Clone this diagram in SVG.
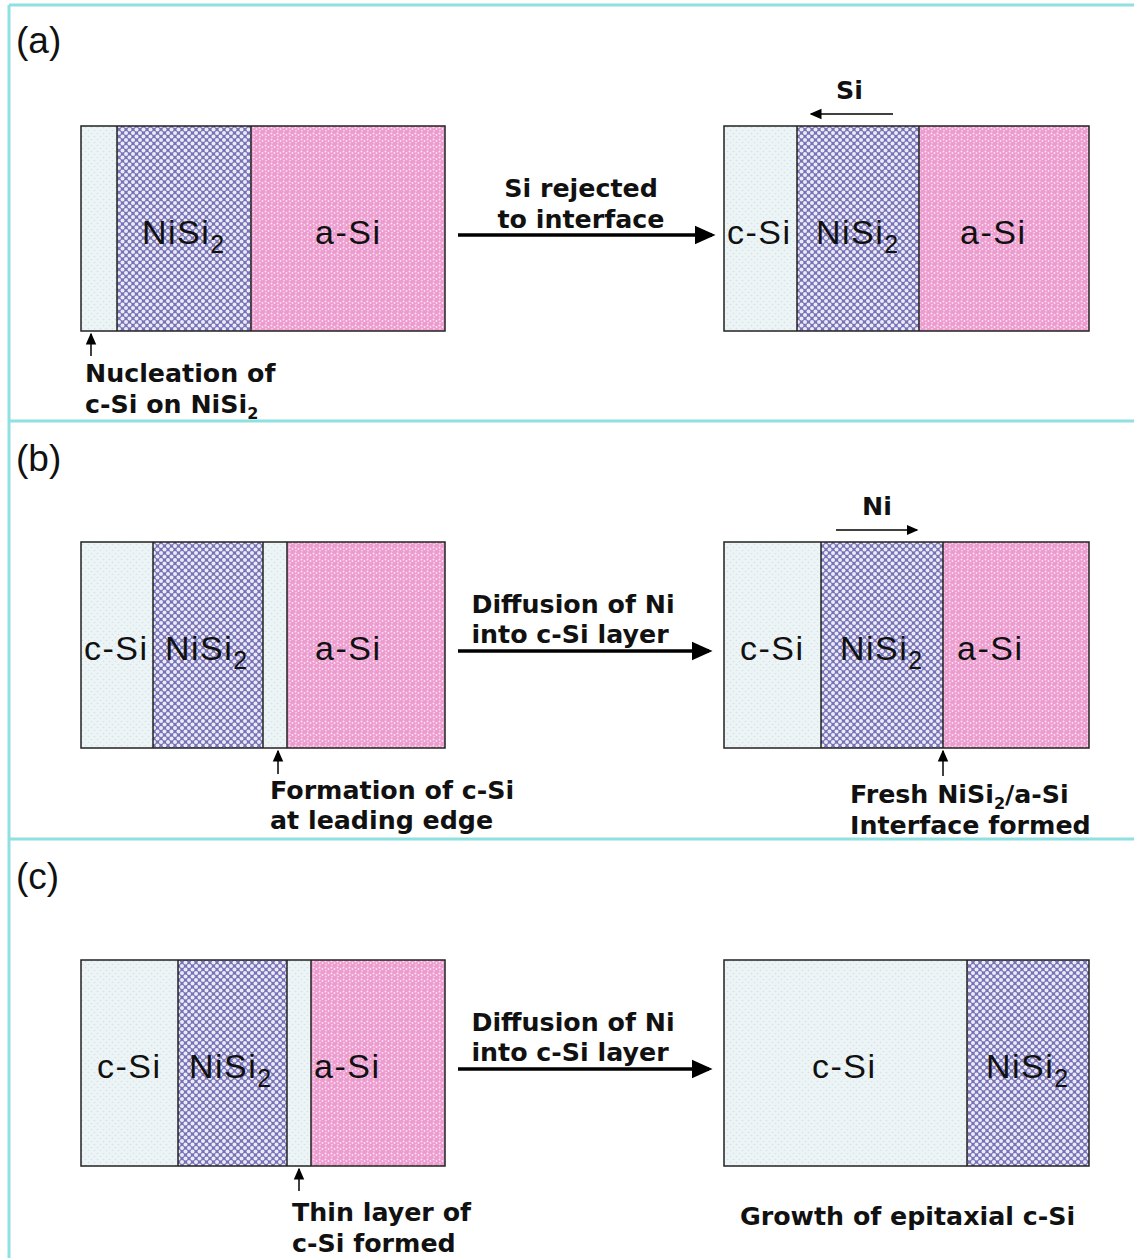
<svg xmlns="http://www.w3.org/2000/svg" width="1134" height="1258" viewBox="0 0 1134 1258">
<defs>
<style>
.frame{fill:none;stroke:#8fe0e0;stroke-width:3}
.lbl{font-family:"Liberation Sans",Arial,sans-serif;font-size:34px;letter-spacing:1.5px;fill:#111}
.bt{font-family:"DejaVu Sans",Verdana,sans-serif;font-weight:bold;font-size:25.3px;fill:#111}
.pl{font-family:"Liberation Sans",Arial,sans-serif;font-size:37px;fill:#111}
.box{stroke:#222;stroke-width:1.5}
.csi{fill:url(#pc)}
.ni{fill:url(#pn)}
.asi{fill:url(#pa)}
.big{stroke:#000;stroke-width:3.5;fill:none}
.sm{stroke:#000;stroke-width:1.5;fill:none}
</style>
<pattern id="pn" width="7" height="7" patternUnits="userSpaceOnUse">
<rect width="7" height="7" fill="#7673b6"/>
<circle cx="0" cy="0" r="2" fill="#eceaf6"/><circle cx="7" cy="0" r="2" fill="#eceaf6"/><circle cx="0" cy="7" r="2" fill="#eceaf6"/><circle cx="7" cy="7" r="2" fill="#eceaf6"/><circle cx="3.5" cy="3.5" r="2" fill="#eceaf6"/>
</pattern>
<pattern id="pa" width="6" height="6" patternUnits="userSpaceOnUse">
<rect width="6" height="6" fill="#ec9ccf"/>
<circle cx="1.5" cy="1.5" r="1" fill="#fbe3f2"/><circle cx="4.5" cy="3" r="0.9" fill="#fbe3f2"/><circle cx="2" cy="4.8" r="0.8" fill="#fbe3f2"/>
</pattern>
<pattern id="pc" width="6" height="6" patternUnits="userSpaceOnUse">
<rect width="6" height="6" fill="#ecf4f5"/>
<circle cx="1.5" cy="1.5" r="0.8" fill="#d2e2e8"/><circle cx="4.5" cy="4.5" r="0.8" fill="#d2e2e8"/>
</pattern>
<marker id="ah" markerWidth="6" markerHeight="6" refX="5" refY="3" orient="auto" markerUnits="strokeWidth"><path d="M0,0.3 L6,3 L0,5.7 z" fill="#000"/></marker>
<marker id="as" markerWidth="8" markerHeight="8" refX="7" refY="4" orient="auto" markerUnits="strokeWidth"><path d="M0,0.5 L8,4 L0,7.5 z" fill="#000"/></marker>
</defs>
<rect width="1134" height="1258" fill="#fff"/>
<g id="frame">
<line class="frame" x1="9" y1="5" x2="1134" y2="5"/>
<line class="frame" x1="9" y1="5" x2="9" y2="1258"/>
<line class="frame" x1="9" y1="421" x2="1134" y2="421"/>
<line class="frame" x1="9" y1="839" x2="1134" y2="839"/>
<text class="pl" x="16" y="53">(a)</text>
<text class="pl" x="16" y="471">(b)</text>
<text class="pl" x="16" y="889">(c)</text>
</g>

<g id="a-left">
<rect class="csi" x="81" y="126" width="36" height="205"/>
<rect class="ni" x="117" y="126" width="134" height="205"/>
<rect class="asi" x="251" y="126" width="194" height="205"/>
<rect class="box" fill="none" x="81" y="126" width="364" height="205"/>
<line class="box" x1="117" y1="126" x2="117" y2="331"/><line class="box" x1="251" y1="126" x2="251" y2="331"/>
<text class="lbl" x="142" y="244">NiSi<tspan font-size="25" dy="9">2</tspan></text>
<text class="lbl" x="315" y="244">a-Si</text>
</g>
<g id="a-right">
<rect class="csi" x="724" y="126" width="73" height="205"/>
<rect class="ni" x="797" y="126" width="122" height="205"/>
<rect class="asi" x="919" y="126" width="170" height="205"/>
<rect class="box" fill="none" x="724" y="126" width="365" height="205"/>
<line class="box" x1="797" y1="126" x2="797" y2="331"/><line class="box" x1="919" y1="126" x2="919" y2="331"/>
<text class="lbl" x="727" y="244">c-Si</text>
<text class="lbl" x="816" y="244">NiSi<tspan font-size="25" dy="9">2</tspan></text>
<text class="lbl" x="960" y="244">a-Si</text>
</g>
<g id="a-labels">
<text class="bt" x="581" y="197" text-anchor="middle">Si rejected</text>
<text class="bt" x="581" y="228" text-anchor="middle">to interface</text>
<text class="bt" x="836" y="99">Si</text>
<text class="bt" x="85" y="382">Nucleation of</text>
<text class="bt" x="85" y="413">c-Si on NiSi<tspan font-size="16" dy="6">2</tspan></text>
</g>

<g id="b-left">
<rect class="csi" x="81" y="542" width="72" height="206"/>
<rect class="ni" x="153" y="542" width="110" height="206"/>
<rect class="csi" x="263" y="542" width="24" height="206"/>
<rect class="asi" x="287" y="542" width="158" height="206"/>
<rect class="box" fill="none" x="81" y="542" width="364" height="206"/>
<line class="box" x1="153" y1="542" x2="153" y2="748"/><line class="box" x1="263" y1="542" x2="263" y2="748"/><line class="box" x1="287" y1="542" x2="287" y2="748"/>
<text class="lbl" x="84" y="660">c-Si</text>
<text class="lbl" x="165" y="660">NiSi<tspan font-size="25" dy="9">2</tspan></text>
<text class="lbl" x="315" y="660">a-Si</text>
</g>
<g id="b-right">
<rect class="csi" x="724" y="542" width="97" height="206"/>
<rect class="ni" x="821" y="542" width="122" height="206"/>
<rect class="asi" x="943" y="542" width="146" height="206"/>
<rect class="box" fill="none" x="724" y="542" width="365" height="206"/>
<line class="box" x1="821" y1="542" x2="821" y2="748"/><line class="box" x1="943" y1="542" x2="943" y2="748"/>
<text class="lbl" x="740" y="660">c-Si</text>
<text class="lbl" x="840" y="660">NiSi<tspan font-size="25" dy="9">2</tspan></text>
<text class="lbl" x="957" y="660">a-Si</text>
</g>
<g id="b-labels">
<text class="bt" x="573" y="613" text-anchor="middle">Diffusion of Ni</text>
<text class="bt" x="570" y="643" text-anchor="middle">into c-Si layer</text>
<text class="bt" x="862" y="515">Ni</text>
<text class="bt" x="270" y="799">Formation of c-Si</text>
<text class="bt" x="270" y="829">at leading edge</text>
<text class="bt" x="850" y="803">Fresh NiSi<tspan font-size="16" dy="6">2</tspan><tspan dy="-6">/a-Si</tspan></text>
<text class="bt" x="850" y="834">Interface formed</text>
</g>

<g id="c-left">
<rect class="csi" x="81" y="960" width="97" height="206"/>
<rect class="ni" x="178" y="960" width="109" height="206"/>
<rect class="csi" x="287" y="960" width="24" height="206"/>
<rect class="asi" x="311" y="960" width="134" height="206"/>
<rect class="box" fill="none" x="81" y="960" width="364" height="206"/>
<line class="box" x1="178" y1="960" x2="178" y2="1166"/><line class="box" x1="287" y1="960" x2="287" y2="1166"/><line class="box" x1="311" y1="960" x2="311" y2="1166"/>
<text class="lbl" x="97" y="1078">c-Si</text>
<text class="lbl" x="189" y="1078">NiSi<tspan font-size="25" dy="9">2</tspan></text>
<text class="lbl" x="314" y="1078">a-Si</text>
</g>
<g id="c-right">
<rect class="csi" x="724" y="960" width="243" height="206"/>
<rect class="ni" x="967" y="960" width="122" height="206"/>
<rect class="box" fill="none" x="724" y="960" width="365" height="206"/>
<line class="box" x1="967" y1="960" x2="967" y2="1166"/>
<text class="lbl" x="812" y="1078">c-Si</text>
<text class="lbl" x="986" y="1078">NiSi<tspan font-size="25" dy="9">2</tspan></text>
</g>
<g id="c-labels">
<text class="bt" x="573" y="1031" text-anchor="middle">Diffusion of Ni</text>
<text class="bt" x="570" y="1061" text-anchor="middle">into c-Si layer</text>
<text class="bt" x="292" y="1221">Thin layer of</text>
<text class="bt" x="292" y="1252">c-Si formed</text>
<text class="bt" x="740" y="1225">Growth of epitaxial c-Si</text>
</g>

<g id="connectors">
<line class="big" x1="458" y1="235" x2="712" y2="235" marker-end="url(#ah)"/>
<line class="big" x1="458" y1="651" x2="709" y2="651" marker-end="url(#ah)"/>
<line class="big" x1="458" y1="1069" x2="709" y2="1069" marker-end="url(#ah)"/>
<line class="sm" x1="893" y1="114" x2="811" y2="114" marker-end="url(#as)"/>
<line class="sm" x1="836" y1="530" x2="917" y2="530" marker-end="url(#as)"/>
<line class="sm" x1="91" y1="356" x2="91" y2="334" marker-end="url(#as)"/>
<line class="sm" x1="278" y1="774" x2="278" y2="751" marker-end="url(#as)"/>
<line class="sm" x1="943" y1="776" x2="943" y2="751" marker-end="url(#as)"/>
<line class="sm" x1="299" y1="1191" x2="299" y2="1169" marker-end="url(#as)"/>
</g>
</svg>
